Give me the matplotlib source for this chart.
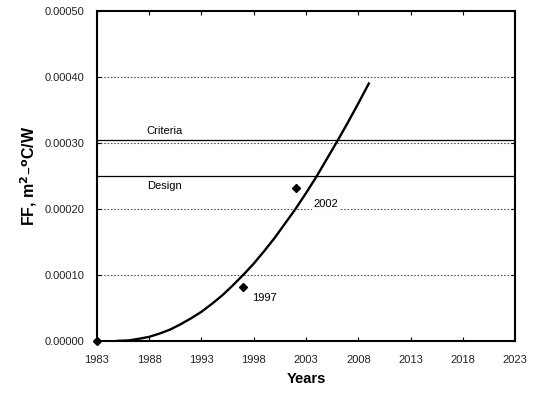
import matplotlib
matplotlib.use('AGG')
import matplotlib.pyplot as plt

# fouling factor trend curve
curve_years = [1985, 1986, 1987, 1988, 1989, 1990, 1991, 1992, 1993, 1994,
               1995, 1996, 1997, 1998, 1999, 2000, 2001, 2002, 2003, 2004,
               2005, 2006, 2007, 2008, 2009]
curve_ff = [0.0, 0.0000005, 0.000003, 0.000006, 0.000011, 0.000017, 0.000025,
            0.000034, 0.000044, 0.000056, 0.000069, 0.000084, 0.000100,
            0.000117, 0.000136, 0.000156, 0.000178, 0.000200, 0.000224,
            0.000249, 0.000276, 0.000303, 0.000331, 0.000360, 0.000390]

# measured points
meas_years = [1983, 1997, 2002]
meas_ff = [0.0, 0.000082, 0.000232]

criteria = 0.000305
design = 0.00025

x_ticks = [1983, 1988, 1993, 1998, 2003, 2008, 2013, 2018, 2023]
y_ticks = [0.0, 0.0001, 0.0002, 0.0003, 0.0004, 0.0005]
y_ticklabels = ['0.00000', '0.00010', '0.00020', '0.00030', '0.00040', '0.00050']

plt.rcParams['font.family'] = ['Liberation Sans', 'DejaVu Sans']

fig = plt.figure(figsize=(5.35, 3.94), dpi=100)
ax = fig.add_axes([0.181, 0.135, 0.782, 0.837])

for v in y_ticks[1:-1]:
    ax.axhline(v, color='#555555', lw=0.8, ls=(0, (1.5, 1.5)), zorder=1)

ax.axhline(criteria, color='black', lw=0.9, zorder=2)
ax.axhline(design, color='black', lw=0.9, zorder=2)
ax.text(1989.5, criteria + 0.000006, 'Criteria', fontsize=8, ha='center', va='bottom')
ax.text(1989.5, design - 0.000007, 'Design', fontsize=8, ha='center', va='top')

ax.plot(curve_years, curve_ff, color='black', lw=1.7, zorder=3)
ax.plot(meas_years, meas_ff, ls='none', marker='D', ms=4.5, color='black', zorder=4, clip_on=False)

lbl_box = dict(facecolor='white', edgecolor='none', pad=1)
ax.annotate('1997', (meas_years[1], meas_ff[1]), xytext=(6.5, -8), textcoords='offset points',
            fontsize=8, ha='left', va='center', bbox=lbl_box, zorder=3.5)
ax.annotate('2002', (meas_years[2], meas_ff[2]), xytext=(13, -11.5), textcoords='offset points',
            fontsize=8, ha='left', va='center', bbox=lbl_box, zorder=3.5)

ax.set_xlim(1983, 2023)
ax.set_ylim(0, 0.0005)
ax.set_xticks(x_ticks)
ax.set_yticks(y_ticks)
ax.set_yticklabels(y_ticklabels)
ax.tick_params(axis='both', labelsize=8, direction='in', length=3, width=0.8,
               top=True, right=True, labelcolor='#222222')
ax.tick_params(axis='x', pad=10)
ax.tick_params(axis='y', pad=9)
for s in ax.spines.values():
    s.set_linewidth(1.5)

ax.set_xlabel('Years', fontsize=10.5, fontweight='bold', labelpad=5)
ax.set_ylabel('FF, m$^\\mathbf{2}$\u2013$^\\mathbf{o}$C/W', fontsize=11.5, fontweight='bold', labelpad=4)

plt.savefig('out.png', dpi=100)
